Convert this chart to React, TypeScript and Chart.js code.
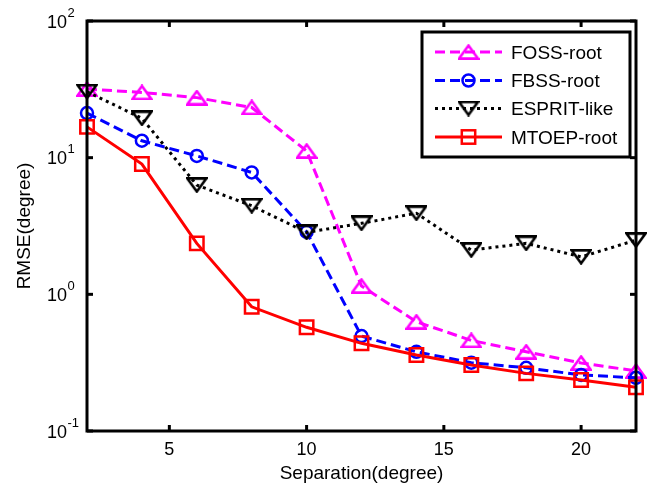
import React, { useEffect, useRef } from 'react';
import { Chart, registerables } from 'chart.js';

Chart.register(...registerables);

const separation = [2, 4, 6, 8, 10, 12, 14, 16, 18, 20, 22];
const fossRoot = [31.8, 30.0, 27.5, 23.3, 11.2, 1.15, 0.63, 0.46, 0.38, 0.315, 0.275];
const fbssRoot = [21.2, 13.3, 10.3, 7.8, 2.87, 0.495, 0.38, 0.316, 0.29, 0.257, 0.245];
const espritLike = [30.4, 19.4, 6.3, 4.45, 2.84, 3.31, 3.92, 2.11, 2.36, 1.88, 2.49];
const mtoepRoot = [16.8, 8.98, 2.36, 0.81, 0.574, 0.438, 0.36, 0.304, 0.264, 0.236, 0.209];

const seriesNames = ['FOSS-root', 'FBSS-root', 'ESPRIT-like', 'MTOEP-root'];
const xTicks = [5, 10, 15, 20];
const yTickExponents = [-1, 0, 1, 2];
const xTitle = 'Separation(degree)';
const yTitle = 'RMSE(degree)';

const FONT_FAMILY = '"Liberation Sans", Arial, sans-serif';

function triangleCanvas(color: string, up: boolean): HTMLCanvasElement {
  const c = document.createElement('canvas');
  const w = 22;
  const h = 16;
  c.width = w;
  c.height = h;
  const g = c.getContext('2d')!;
  g.strokeStyle = color;
  g.lineWidth = 2.6;
  g.lineJoin = 'miter';
  g.beginPath();
  if (up) {
    g.moveTo(w / 2, 1.6);
    g.lineTo(w - 1.6, h - 1.4);
    g.lineTo(1.6, h - 1.4);
  } else {
    g.moveTo(1.6, 1.4);
    g.lineTo(w - 1.6, 1.4);
    g.lineTo(w / 2, h - 1.6);
  }
  g.closePath();
  g.stroke();
  return c;
}

export default function App() {
  const ref = useRef<HTMLCanvasElement | null>(null);

  useEffect(() => {
    if (!ref.current) return;
    const upTri = triangleCanvas('#FF00FF', true);
    const downTri = triangleCanvas('#000000', false);

    const styles = [
      { color: '#FF00FF', dash: [10, 5], marker: 'up' },
      { color: '#0000FF', dash: [10, 5], marker: 'circle' },
      { color: '#000000', dash: [3, 4], marker: 'down' },
      { color: '#FF0000', dash: [], marker: 'square' },
    ];

    const drawMarker = (ctx: CanvasRenderingContext2D, kind: string, color: string, x: number, y: number) => {
      ctx.save();
      ctx.setLineDash([]);
      ctx.strokeStyle = color;
      ctx.lineWidth = 2.5;
      if (kind === 'up') ctx.drawImage(upTri, x - upTri.width / 2, y - upTri.height / 2);
      else if (kind === 'down') ctx.drawImage(downTri, x - downTri.width / 2, y - downTri.height / 2);
      else if (kind === 'circle') {
        ctx.beginPath();
        ctx.arc(x, y, 6, 0, Math.PI * 2);
        ctx.stroke();
      } else {
        const s = 13.4;
        ctx.strokeRect(x - s / 2, y - s / 2, s, s);
      }
      ctx.restore();
    };

    const matlabPlugin = {
      id: 'matlabAxes',
      afterDatasetsDraw(chart: any) {
        const { ctx, chartArea: a, scales } = chart;
        const xs = scales.x;
        const ys = scales.y;
        ctx.save();
        ctx.setLineDash([]);
        ctx.strokeStyle = '#000';
        ctx.lineWidth = 3;
        ctx.strokeRect(a.left, a.top, a.right - a.left, a.bottom - a.top);
        const seg = (x1: number, y1: number, x2: number, y2: number) => {
          ctx.beginPath();
          ctx.moveTo(x1, y1);
          ctx.lineTo(x2, y2);
          ctx.stroke();
        };
        ctx.lineWidth = 3;
        for (const v of xTicks) {
          const px = xs.getPixelForValue(v);
          seg(px, a.bottom, px, a.bottom - 6);
          seg(px, a.top, px, a.top + 6);
        }
        for (const e of yTickExponents) {
          const py = ys.getPixelForValue(Math.pow(10, e));
          seg(a.left, py, a.left + 6, py);
          seg(a.right, py, a.right - 6, py);
        }
        ctx.fillStyle = '#000';
        ctx.textBaseline = 'alphabetic';
        ctx.font = `18px ${FONT_FAMILY}`;
        ctx.textAlign = 'center';
        for (const v of xTicks) {
          ctx.fillText(String(v), xs.getPixelForValue(v), a.bottom + 24);
        }
        for (const e of yTickExponents) {
          const py = ys.getPixelForValue(Math.pow(10, e));
          ctx.font = `18px ${FONT_FAMILY}`;
          ctx.textAlign = 'right';
          ctx.fillText('10', a.left - 20, py + 6.5);
          ctx.font = `13px ${FONT_FAMILY}`;
          ctx.textAlign = 'left';
          ctx.fillText(String(e), a.left - 19.5, py - 4.5);
        }
        ctx.font = `19px ${FONT_FAMILY}`;
        ctx.textAlign = 'center';
        ctx.fillText(xTitle, (a.left + a.right) / 2, 479);
        ctx.save();
        ctx.translate(30, (a.top + a.bottom) / 2);
        ctx.rotate(-Math.PI / 2);
        ctx.fillText(yTitle, 0, 0);
        ctx.restore();

        // legend
        const bx = 422, by = 32, bw = 208, bh = 125;
        ctx.fillStyle = '#fff';
        ctx.fillRect(bx, by, bw, bh);
        ctx.lineWidth = 3;
        ctx.strokeStyle = '#000';
        ctx.strokeRect(bx, by, bw, bh);
        const rows = [52, 80.5, 108.5, 137];
        seriesNames.forEach((name, i) => {
          const st = styles[i];
          const y = rows[i];
          ctx.save();
          ctx.strokeStyle = st.color;
          ctx.lineWidth = 3;
          ctx.setLineDash(st.dash);
          seg(435, y, 502, y);
          ctx.restore();
          drawMarker(ctx, st.marker, st.color, 468.5, y);
          ctx.fillStyle = '#000';
          ctx.font = `19px ${FONT_FAMILY}`;
          ctx.textAlign = 'left';
          ctx.fillText(name, 511, y + 6.5);
        });
        ctx.restore();
      },
    };

    const mk = (label: string, data: number[], i: number, pointStyle: any, radius: number, order: number) => ({
      label,
      data: separation.map((x, k) => ({ x, y: data[k] })),
      borderColor: styles[i].color,
      backgroundColor: 'transparent',
      borderWidth: 3,
      borderDash: styles[i].dash,
      pointStyle,
      pointRadius: radius,
      pointBorderWidth: 2.5,
      pointBorderColor: styles[i].color,
      pointBackgroundColor: 'transparent',
      fill: false,
      tension: 0,
      clip: false as any,
      order,
    });

    const chart = new Chart(ref.current, {
      type: 'line',
      data: {
        datasets: [
          mk(seriesNames[0], fossRoot, 0, upTri, 8, 3),
          mk(seriesNames[1], fbssRoot, 1, 'circle', 6, 2),
          mk(seriesNames[2], espritLike, 2, downTri, 8, 1),
          mk(seriesNames[3], mtoepRoot, 3, 'rect', 9.5, 0),
        ] as any,
      },
      options: {
        animation: false,
        responsive: false,
        devicePixelRatio: 1,
        layout: { padding: { left: 87, right: 14, top: 21, bottom: 56 } },
        plugins: { legend: { display: false }, tooltip: { enabled: false } },
        scales: {
          x: { type: 'linear', min: 2, max: 22, display: false },
          y: { type: 'logarithmic', min: 0.1, max: 100, display: false },
        },
      },
      plugins: [matlabPlugin],
    });
    return () => chart.destroy();
  }, []);

  return (
    <div style={{ position: 'absolute', left: 0, top: 0, width: 650, height: 487, background: '#fff' }}>
      <canvas ref={ref} width={650} height={487} style={{ display: 'block' }} />
    </div>
  );
}
